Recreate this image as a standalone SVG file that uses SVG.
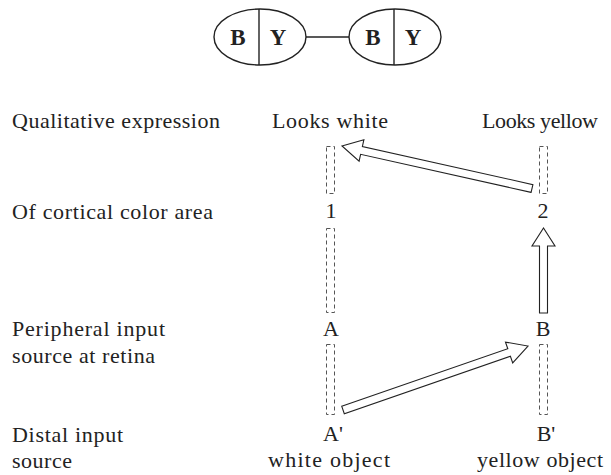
<svg xmlns="http://www.w3.org/2000/svg" width="611" height="475" viewBox="0 0 611 475">
<style>
text{font-family:"Liberation Serif","Times New Roman",serif;font-size:22px;fill:#222}
.bold{font-weight:bold;font-size:23px;text-anchor:middle}
.mid{text-anchor:middle}
.ell{fill:none;stroke:#222;stroke-width:1.4}
.dash{fill:none;stroke:#555;stroke-width:1;stroke-dasharray:4 3}
.arrow{fill:#fff;stroke:#222;stroke-width:1.1;stroke-linejoin:miter}
</style>
<rect width="611" height="475" fill="#fff"/>
<g id="node-left">
<ellipse class="ell" cx="260" cy="37" rx="46" ry="28"/>
<line class="ell" x1="259" y1="9" x2="259" y2="65"/>
<text class="bold" x="238" y="45">B</text>
<text class="bold" x="278" y="45">Y</text>
</g>
<g id="node-right">
<ellipse class="ell" cx="395" cy="37" rx="46" ry="28"/>
<line class="ell" x1="394" y1="9" x2="394" y2="65"/>
<text class="bold" x="373" y="45">B</text>
<text class="bold" x="413" y="45">Y</text>
</g>
<g id="row-labels">
<text x="12" y="128" textLength="208" lengthAdjust="spacing">Qualitative expression</text>
<text x="12" y="219" textLength="201" lengthAdjust="spacing">Of cortical color area</text>
<text x="12" y="336" textLength="153" lengthAdjust="spacing">Peripheral input</text>
<text x="12" y="363" textLength="143" lengthAdjust="spacing">source at retina</text>
<text x="12" y="442" textLength="111" lengthAdjust="spacing">Distal input</text>
<text x="12" y="468" textLength="60" lengthAdjust="spacing">source</text>
</g>
<g id="col-white">
<text x="272" y="128" textLength="116" lengthAdjust="spacing">Looks white</text>
<text class="mid" x="331" y="218">1</text>
<text class="mid" x="331" y="336">A</text>
<text class="mid" x="333" y="441">A'</text>
<text x="268" y="467" textLength="122" lengthAdjust="spacing">white object</text>
<rect class="dash" x="326.5" y="146.5" width="8" height="47"/>
<rect class="dash" x="326.5" y="228.5" width="8" height="84"/>
<rect class="dash" x="326.5" y="344.5" width="8" height="70"/>
</g>
<g id="col-yellow">
<text x="482" y="128" textLength="116" lengthAdjust="spacing">Looks yellow</text>
<text class="mid" x="543" y="218">2</text>
<text class="mid" x="543" y="336">B</text>
<text class="mid" x="546" y="441">B'</text>
<text x="477" y="467" textLength="126" lengthAdjust="spacing">yellow object</text>
<rect class="dash" x="539.5" y="146.5" width="8" height="47"/>
<rect class="dash" x="539.5" y="344.5" width="8" height="70"/>
</g>
<g id="connectors">
<line class="ell" x1="306" y1="37" x2="349" y2="37"/>
<polygon class="arrow" points="531.1,192.4 360.6,154.3 359.1,161.1 342,146 363.9,139.7 362.4,146.5 532.9,184.6"/>
<polygon class="arrow" points="539.5,313 539.5,246 532,246 543.5,228 555,246 547.5,246 547.5,313"/>
<polygon class="arrow" points="341.7,406.2 507.8,348.7 505.5,342.1 528,346 512.7,362.9 510.4,356.3 344.3,413.8"/>
</g>
</svg>
